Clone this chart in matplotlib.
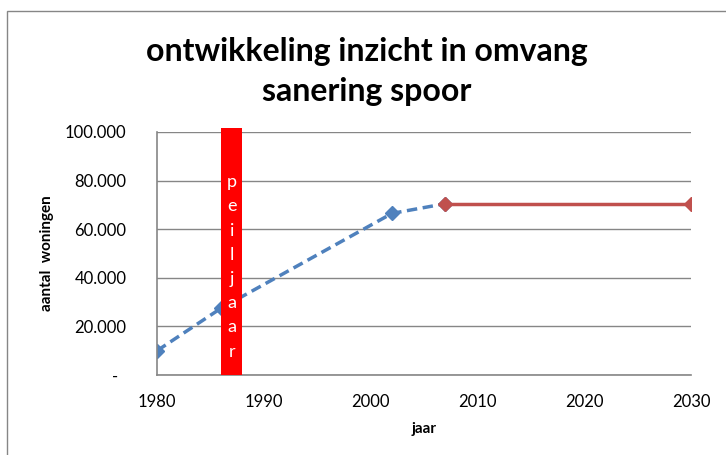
import matplotlib.pyplot as plt
from matplotlib.patches import Rectangle

plt.rcParams["font.family"] = ["Lato", "DejaVu Sans"]

# data
inzicht_jaar = [1980, 1986, 2002, 2007]
inzicht_woningen = [10000, 27500, 66500, 70500]
prognose_jaar = [2007, 2030]
prognose_woningen = [70500, 70500]
peiljaar = 1987
peiljaar_hoogte = 101500

y_ticks = [0, 20000, 40000, 60000, 80000, 100000]
y_labels = ["-  ", "20.000", "40.000", "60.000", "80.000", "100.000"]
x_ticks = [1980, 1990, 2000, 2010, 2020, 2030]


def main() -> None:
    fig = plt.figure(figsize=(7.26, 4.55), dpi=100)
    ax = fig.add_axes([0.2163, 0.1758, 0.7355, 0.5341])

    # chart border
    fig.patches.append(
        Rectangle((7 / 726, -0.01), 1.1, 1 - 11 / 455 + 0.01, transform=fig.transFigure,
                  fill=False, edgecolor="#868686", linewidth=1)
    )

    ax.bar([peiljaar], [peiljaar_hoogte], width=2.0, color="#FF0000", zorder=3,
           clip_on=False)
    ax.text(peiljaar, 44500, "p\ne\ni\nl\nj\na\na\nr", color="white", ha="center",
            va="center", fontsize=13, linespacing=1.63, zorder=4)

    ax.plot(inzicht_jaar, inzicht_woningen, color="#4F81BD", linestyle=(0, (3, 1.6)),
            linewidth=2.5, marker="D", markersize=7, zorder=2)
    ax.plot(prognose_jaar, prognose_woningen, color="#C0504D", linewidth=2.5,
            marker="D", markersize=7, zorder=2.5)

    ax.set_xlim(1980, 2030)
    ax.set_ylim(0, 100000)
    ax.set_xticks(x_ticks)
    ax.set_yticks(y_ticks)
    ax.set_yticklabels(y_labels)
    ax.tick_params(length=0, labelsize=12)
    ax.tick_params(axis="y", pad=22)
    ax.tick_params(axis="x", pad=14)
    ax.grid(axis="y", color="#868686", linewidth=1)
    ax.set_axisbelow(True)
    for side in ["top", "right"]:
        ax.spines[side].set_visible(False)
    for side in ["left", "bottom"]:
        ax.spines[side].set_color("#868686")
        ax.spines[side].set_linewidth(1.2)

    ax.set_xlabel("jaar", fontsize=11, fontweight="bold")
    ax.xaxis.set_label_coords(0.5, -47 / 243, transform=ax.transAxes)
    ax.set_ylabel("aantal  woningen", fontsize=11, fontweight="bold")
    ax.yaxis.set_label_coords(-103 / 534, 0.5)
    fig.text(0.505, 1 - 51 / 455, "ontwikkeling inzicht in omvang",
             ha="center", va="center", fontsize=23, fontweight="bold")
    fig.text(0.505, 1 - 92 / 455, "sanering spoor",
             ha="center", va="center", fontsize=23, fontweight="bold")

    fig.savefig("out.png", dpi=100)


main() if __name__ == "__main__" else None
